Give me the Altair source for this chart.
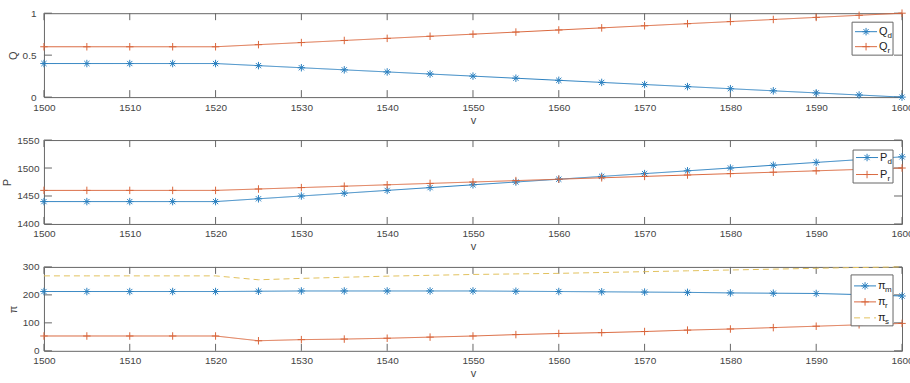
import altair as alt
import pandas as pd

# ---------------- data ----------------
v = [1500, 1505, 1510, 1515, 1520, 1525, 1530, 1535, 1540, 1545, 1550,
     1555, 1560, 1565, 1570, 1575, 1580, 1585, 1590, 1595, 1600]

q_d = [0.4, 0.4, 0.4, 0.4, 0.4, 0.375, 0.35, 0.325, 0.3, 0.275, 0.25,
       0.225, 0.2, 0.175, 0.15, 0.125, 0.1, 0.075, 0.05, 0.025, 0.0]
q_r = [0.6, 0.6, 0.6, 0.6, 0.6, 0.625, 0.65, 0.675, 0.7, 0.725, 0.75,
       0.775, 0.8, 0.825, 0.85, 0.875, 0.9, 0.925, 0.95, 0.975, 1.0]

p_d = [1440, 1440, 1440, 1440, 1440, 1445, 1450, 1455, 1460, 1465, 1470,
       1475, 1480, 1485, 1490, 1495, 1500, 1505, 1510, 1515, 1520]
p_r = [1460, 1460, 1460, 1460, 1460, 1462.5, 1465, 1467.5, 1470, 1472.5, 1475,
       1477.5, 1480, 1482.5, 1485, 1487.5, 1490, 1492.5, 1495, 1497.5, 1500]

pi_m = [212, 212, 212, 212, 212, 213, 214, 214, 214, 214, 214,
        213, 212, 211, 210, 209, 207, 206, 205, 201, 196]
pi_r = [53, 53, 53, 53, 53, 36, 40, 42, 45, 49, 53,
        58, 62, 65, 69, 74, 78, 83, 88, 93, 98]
pi_s = [268, 268, 268, 268, 268, 254, 259, 263, 267, 270, 273,
        275, 277, 280, 283, 286, 289, 292, 295, 298, 300]

x_ticks = [1500, 1510, 1520, 1530, 1540, 1550, 1560, 1570, 1580, 1590, 1600]
q_ticks = [0, 0.5, 1]
p_ticks = [1400, 1450, 1500, 1550]
pi_ticks = [0, 100, 200, 300]

# ---------------- style ----------------
W, H = 859, 84
BLUE = "#2a80bf"
ORANGE = "#d9653b"
YELLOW = "#e2c25e"
AXC = "#444444"
BOX = "#666666"
FONT = "Liberation Sans"
PLUS = "M-1,0L1,0M0,-1L0,1"
STAR = "M-1,0L1,0M0,-1L0,1M-0.7,-0.7L0.7,0.7M-0.7,0.7L0.7,-0.7"
SOLID = [1, 0]
DASH = [6, 4]

KEYS = ["a", "b", "c"]
KEY_COLORS = [BLUE, ORANGE, YELLOW]
KEY_DASH = [SOLID, SOLID, DASH]
KEY_SHAPES = [STAR, PLUS, "circle"]

one = pd.DataFrame({"a": [0]})


def panel(series, ytitle, ydom, yticks, yfmt, ylabpad, legend_box, legend_rows):
    rows = []
    for key, vals in series:
        for xv, yv in zip(v, vals):
            rows.append({"v": xv, "val": yv, "series": key, "marker": key != "c"})
    df = pd.DataFrame(rows)

    xax = alt.Axis(ticks=False, domain=False, grid=False, values=x_ticks, format="d",
                   labelFontSize=10, labelColor=AXC, labelFont=FONT, labelPadding=5,
                   labelFlush=False, labelOverlap=False,
                   title="v", titleFont=FONT, titleFontSize=11, titleFontWeight="normal",
                   titleColor=AXC, titlePadding=2)
    yax = alt.Axis(ticks=False, domain=False, grid=False, values=yticks, format=yfmt,
                   labelFontSize=10, labelColor=AXC, labelFont=FONT, labelPadding=ylabpad,
                   labelFlush=False, labelOverlap=False,
                   title=ytitle, titleFont=FONT, titleFontSize=11, titleFontWeight="normal",
                   titleColor=AXC, titlePadding=4)
    X = alt.X("v:Q", scale=alt.Scale(domain=[1500, 1600], nice=False, zero=False), axis=xax)
    Y = alt.Y("val:Q", scale=alt.Scale(domain=ydom, nice=False, zero=False), axis=yax)

    color = alt.Color("series:N", scale=alt.Scale(domain=KEYS, range=KEY_COLORS), legend=None)
    base = alt.Chart(df).encode(x=X, y=Y)
    lines = base.mark_line(strokeWidth=1).encode(
        color=color,
        strokeDash=alt.StrokeDash("series:N", scale=alt.Scale(domain=KEYS, range=KEY_DASH), legend=None),
        detail="series:N",
    )
    pts = base.transform_filter(alt.datum.marker).mark_point(
        filled=False, size=56, strokeWidth=1, opacity=1
    ).encode(
        color=color,
        shape=alt.Shape("series:N", scale=alt.Scale(domain=KEYS, range=KEY_SHAPES), legend=None),
    )

    tx = pd.DataFrame({"t": x_ticks})
    ty = pd.DataFrame({"t": yticks})
    XT = alt.X("t:Q", scale=alt.Scale(domain=[1500, 1600], nice=False, zero=False), axis=xax)
    YT = alt.Y("t:Q", scale=alt.Scale(domain=ydom, nice=False, zero=False), axis=yax)
    tick_b = alt.Chart(tx).mark_rule(color=BOX, strokeWidth=1).encode(
        x=XT, y=alt.value(H), y2=alt.value(H - 7))
    tick_t = alt.Chart(tx).mark_rule(color=BOX, strokeWidth=1).encode(
        x=XT, y=alt.value(0), y2=alt.value(7))
    tick_l = alt.Chart(ty).mark_rule(color=BOX, strokeWidth=1).encode(
        y=YT, x=alt.value(0), x2=alt.value(8))
    tick_r = alt.Chart(ty).mark_rule(color=BOX, strokeWidth=1).encode(
        y=YT, x=alt.value(W - 8), x2=alt.value(W))

    layers = [tick_b, tick_t, tick_l, tick_r, lines, pts]

    # legend box
    bx0, bx1, by0, by1 = legend_box
    layers.append(alt.Chart(one).mark_rect(fill="white", stroke=BOX, strokeWidth=1).encode(
        x=alt.value(bx0), x2=alt.value(bx1), y=alt.value(by0), y2=alt.value(by1)))
    for (ym, main, sub, subdx, key) in legend_rows:
        i = KEYS.index(key)
        layers.append(alt.Chart(one).mark_rule(color=KEY_COLORS[i], strokeWidth=1,
                                               strokeDash=KEY_DASH[i]).encode(
            x=alt.value(bx0 + 3), x2=alt.value(bx0 + 25), y=alt.value(ym)))
        if key != "c":
            layers.append(alt.Chart(one).mark_point(shape=KEY_SHAPES[i], filled=False, size=56,
                                                    strokeWidth=1, color=KEY_COLORS[i],
                                                    opacity=1).encode(
                x=alt.value(bx0 + 14), y=alt.value(ym)))
        layers.append(alt.Chart(one).mark_text(text=main, align="left", baseline="middle",
                                               fontSize=11, font=FONT, color="#222222").encode(
            x=alt.value(bx0 + 27), y=alt.value(ym)))
        layers.append(alt.Chart(one).mark_text(text=sub, align="left", baseline="middle",
                                               fontSize=8, font=FONT, color="#222222").encode(
            x=alt.value(bx0 + 27 + subdx), y=alt.value(ym + 4)))

    return alt.layer(*layers).properties(width=W, height=H)


p1 = panel(
    [("a", q_d), ("b", q_r)],
    "Q", [0, 1], q_ticks, "~g", 8,
    (809, 850, 9, 42),
    [(18.5, "Q", "d", 8.5, "a"), (33.5, "Q", "r", 8.5, "b")],
)
p2 = panel(
    [("a", p_d), ("b", p_r)],
    "P", [1400, 1550], p_ticks, "d", 5,
    (810, 850, 10, 43),
    [(17.5, "P", "d", 7.5, "a"), (34.5, "P", "r", 7.5, "b")],
)
p3 = panel(
    [("a", pi_m), ("b", pi_r), ("c", pi_s)],
    "π", [0, 300], pi_ticks, "d", 5,
    (808, 850, 8, 59),
    [(19, "π", "m", 7, "a"), (35, "π", "r", 7, "b"), (51, "π", "s", 7, "c")],
)

chart = alt.vconcat(p1, p2, p3, spacing=43, bounds="flush").properties(
    padding={"left": 1, "top": 6, "right": -4, "bottom": 0},
    background="white",
).configure_view(stroke=BOX, strokeWidth=1)

chart.save("out.html", embed_options={"renderer": "svg", "actions": False})
